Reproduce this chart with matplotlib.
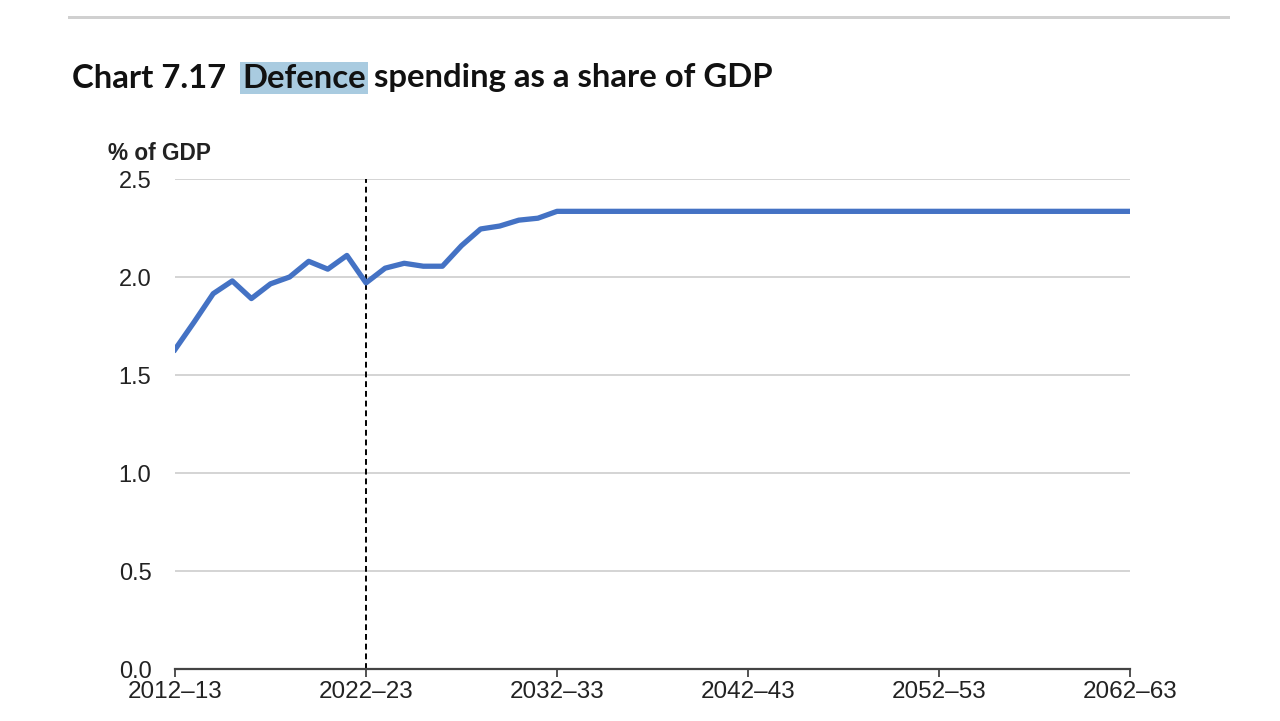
import numpy as np
import matplotlib.pyplot as plt
from matplotlib.patches import Rectangle

# financial years, 2012-13 .. 2062-63
years = list(range(2012, 2063))
labels = ["%d\u2013%02d" % (y, (y + 1) % 100) for y in years]

# defence spending, % of GDP
hist_vals = [1.63, 1.77, 1.915, 1.98, 1.89, 1.965, 2.00, 2.08, 2.04, 2.11,
             1.97, 2.045, 2.07, 2.055, 2.055, 2.16, 2.245, 2.26, 2.29, 2.30,
             2.335]
flat_val = 2.335
share = hist_vals + [flat_val] * (len(years) - len(hist_vals))

tick_years = [2012, 2022, 2032, 2042, 2052, 2062]
y_ticks = [0.0, 0.5, 1.0, 1.5, 2.0, 2.5]
budget_year = 2022

fig = plt.figure(figsize=(12.8, 7.21), dpi=100)
ax = fig.add_axes([175 / 1280, 52 / 721, 955 / 1280, 490 / 721])

ax.plot(years, share, color="#4472c4", lw=3.8, solid_joinstyle="round", zorder=3)
ax.axvline(budget_year, color="black", lw=1.4, ls=(0, (3, 2)), zorder=2)

ax.set_xlim(years[0], years[-1])
ax.set_ylim(0, 2.5)
ax.set_yticks(y_ticks)
ax.set_yticklabels(["%.1f" % v for v in y_ticks], fontsize=17,
                   family="Liberation Sans", color="#222222")
ax.set_xticks(tick_years)
ax.set_xticklabels([labels[years.index(y)] for y in tick_years], fontsize=17.5,
                   family="Liberation Sans", color="#222222")
ax.tick_params(axis="y", length=0, pad=17)
ax.tick_params(axis="x", length=6, width=1.3, color="#444444", pad=3)
ax.grid(axis="y", color="#d4d4d4", lw=1.4)
ax.set_axisbelow(True)
for s in ["left", "right", "top"]:
    ax.spines[s].set_visible(False)
ax.spines["bottom"].set_color("#444444")
ax.spines["bottom"].set_linewidth(1.6)
ax.spines["bottom"].set_zorder(4)

fig.text(108 / 1280, 1 - 154 / 721, "% of GDP", fontsize=16.3, fontweight="bold",
         family="Liberation Sans", color="#222222", va="center", ha="left")

# top rule
fig.add_artist(Rectangle((68 / 1280, 1 - 19 / 721), (1230 - 68) / 1280, 3 / 721,
                         transform=fig.transFigure, color="#d0d0d0", lw=0))

# title with highlighted word
fig.canvas.draw()
r = fig.canvas.get_renderer()
tx = 72 / 1280
ty = 1 - 78 / 721
parts = ["Chart 7.17  ", "Defence", " spending as a share of GDP"]
for i, p in enumerate(parts):
    kw = dict(fontsize=23.7, fontweight="bold", family="Lato", color="#111111",
              va="center", ha="left")
    if i == 1:
        kw["bbox"] = dict(boxstyle="square,pad=0.06", fc="#a9cbe0", ec="none")
    t = fig.text(tx, ty, p.replace(" ", "\u00a0"), **kw)
    bb = t.get_window_extent(renderer=r)
    tx = tx + bb.width / 1280

fig.savefig("out.png", dpi=100, facecolor="white")
